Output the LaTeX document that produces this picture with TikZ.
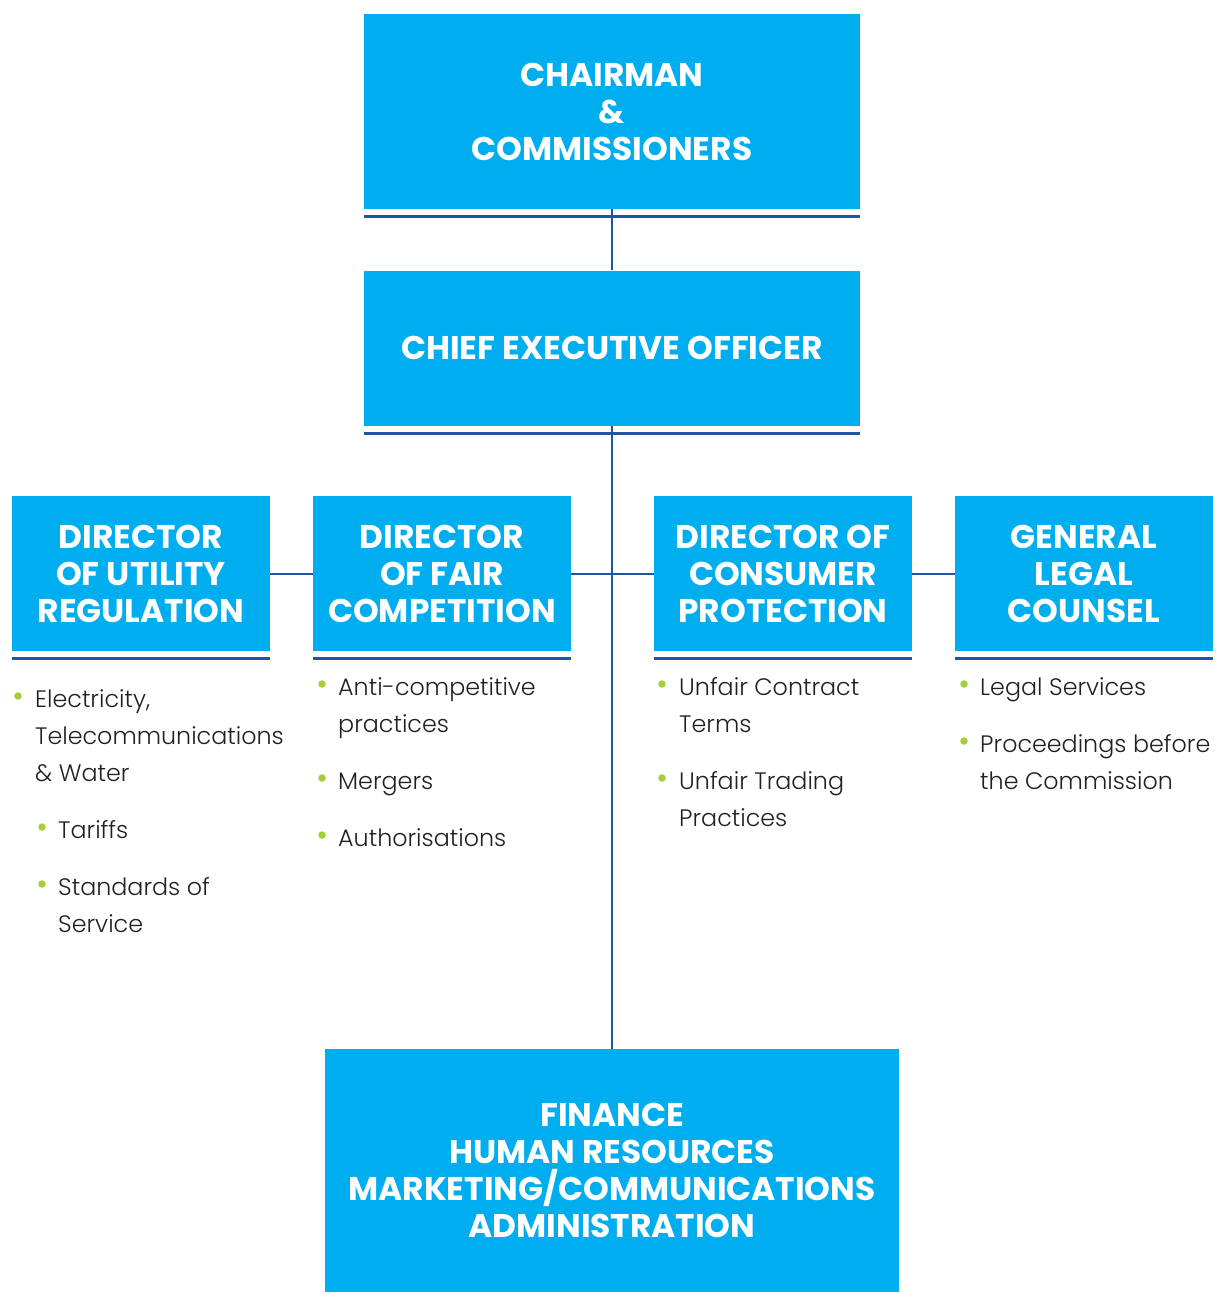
\documentclass[tikz,border=0pt]{standalone}
\usepackage{fontspec}
\setmainfont{Poppins}[UprightFont=* Light, BoldFont=* Bold]
\definecolor{boxblue}{HTML}{00AEEF}
\definecolor{lineblue}{HTML}{1F56A3}
\definecolor{bulletgreen}{HTML}{A6CE39}
\definecolor{bodytext}{HTML}{231F20}
\tikzset{
  unitbox/.style={fill=boxblue, inner sep=0pt, text=white, align=center,
    font=\fontsize{32.8}{37}\selectfont\bfseries},
  uline/.style={draw=lineblue, line width=3pt},
  conn/.style={draw=lineblue, line width=2pt},
  body/.style={font=\fontsize{23.8}{37}\selectfont, text=bodytext, inner sep=0pt, anchor=base west},
  dot/.style={circle, fill=bulletgreen, inner sep=0pt, minimum size=7.5pt},
}
\begin{document}
\begin{tikzpicture}[x=1pt, y=-1pt]
\useasboundingbox (0,0) rectangle (1215,1292);

% board and chief executive
\node[unitbox, minimum width=496, minimum height=195] (chair) at (612,111.5)
  {CHAIRMAN\\\&\\COMMISSIONERS};
\node[unitbox, minimum width=496, minimum height=155] (ceo) at (612,348)
  {CHIEF EXECUTIVE OFFICER};

% directorates
\node[unitbox, minimum width=258, minimum height=155] (dur) at (141,573.5)
  {DIRECTOR\\OF UTILITY\\REGULATION};
\node[unitbox, minimum width=258, minimum height=155] (dfc) at (442,573.5)
  {DIRECTOR\\OF FAIR\\COMPETITION};
\node[unitbox, minimum width=258, minimum height=155] (dcp) at (783,573.5)
  {DIRECTOR OF\\CONSUMER\\PROTECTION};
\node[unitbox, minimum width=258, minimum height=155] (glc) at (1084,573.5)
  {GENERAL\\LEGAL\\COUNSEL};

% support services
\node[unitbox, minimum width=574, minimum height=243] (support) at (612,1170.5)
  {FINANCE\\HUMAN RESOURCES\\MARKETING/COMMUNICATIONS\\ADMINISTRATION};

% rules under the boxes
\foreach \n/\d in {chair/7, ceo/7.5, dur/7, dfc/7, dcp/7, glc/7}
  \draw[uline] ([yshift=-\d pt]\n.south west) -- ([yshift=-\d pt]\n.south east);

% reporting lines
\draw[conn] (chair.south) -- (ceo.north);
\draw[conn] (ceo.south) -- (support.north);
\draw[conn] (dur.east) -- (dfc.west);
\draw[conn] (dfc.east) -- (dcp.west);
\draw[conn] (dcp.east) -- (glc.west);

% utility regulation duties
\node[dot] (b1) at (18,696) {};
\node[body] (t1a) at (35,707) {Electricity,};
\node[body] (t1b) at (35,744) {Telecommunications};
\node[body] (t1c) at (35,781) {\& Water};
\node[dot] (b2) at (42,827) {};
\node[body] (t2a) at (58,838) {Tariffs};
\node[dot] (b3) at (42,884) {};
\node[body] (t3a) at (58,895) {Standards of};
\node[body] (t3b) at (58,932) {Service};

% fair competition duties
\node[dot] (b4) at (322,684) {};
\node[body] (t4a) at (338,695) {Anti-competitive};
\node[body] (t4b) at (338,732) {practices};
\node[dot] (b5) at (322,778) {};
\node[body] (t5a) at (338,789) {Mergers};
\node[dot] (b6) at (322,835) {};
\node[body] (t6a) at (338,846) {Authorisations};

% consumer protection duties
\node[dot] (b7) at (662,684) {};
\node[body] (t7a) at (679,695) {Unfair Contract};
\node[body] (t7b) at (679,732) {Terms};
\node[dot] (b8) at (662,778) {};
\node[body] (t8a) at (679,789) {Unfair Trading};
\node[body] (t8b) at (679,826) {Practices};

% legal counsel duties
\node[dot] (b9) at (964,684) {};
\node[body] (t9a) at (980,695) {Legal Services};
\node[dot] (b10) at (964,741) {};
\node[body] (t10a) at (980,752) {Proceedings before};
\node[body] (t10b) at (980,789) {the Commission};
\end{tikzpicture}
\end{document}
